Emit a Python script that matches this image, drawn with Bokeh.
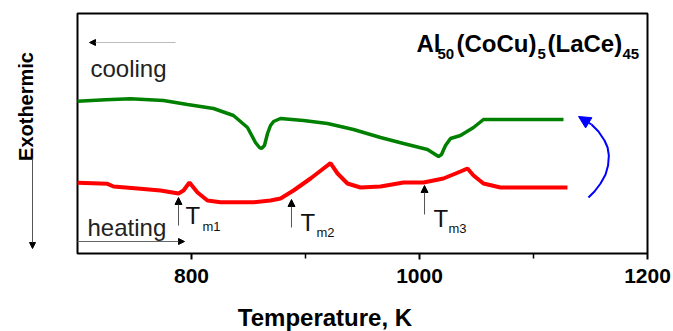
import numpy as np
from bokeh.plotting import figure
from bokeh.models import Label, Arrow, NormalHead, FixedTicker
from bokeh.embed import file_html
from bokeh.resources import INLINE

# ---- data (temperature in K, DTA signal in arbitrary units) ----
cool_T = [700, 724.6, 746.5, 775.4, 796.5, 819.3, 836.8, 849.1, 856.1, 859.6, 861.4, 864.0,
          866.7, 869.3, 872.0, 878.0, 898.2, 919.3, 942.1, 965.8, 986.0, 1007.0, 1016.7,
          1019.3, 1022.8, 1027.2, 1035.9, 1047.4, 1056.1, 1126.3]
cool_S = [152.3, 153.7, 154.7, 153.0, 149.0, 145.0, 138.0, 126.0, 111.0, 106.0, 105.0, 108.0,
          120.0, 128.0, 132.0, 135.0, 133.0, 130.0, 124.0, 116.0, 110.0, 104.0, 97.0,
          99.0, 108.0, 115.0, 118.0, 126.0, 134.0, 134.0]

heat_T = [700, 726.3, 731.6, 752.6, 772.8, 788.6, 793.0, 798.2, 805.3, 814.0, 825.4, 854.4,
          869.3, 878.1, 889.5, 904.4, 915.8, 921.9, 928.1, 936.8, 948.2, 965.8, 986.0,
          1003.5, 1021.0, 1036.0, 1042.1, 1047.4, 1056.1, 1071.0, 1129.8]
heat_S = [70.7, 69.7, 67.0, 65.0, 63.0, 60.0, 63.0, 71.0, 61.0, 53.0, 51.3, 51.3,
          53.0, 55.0, 63.0, 75.0, 85.0, 90.3, 80.0, 70.0, 66.0, 67.0, 71.0,
          71.0, 75.0, 82.0, 85.0, 78.0, 70.0, 66.0, 66.0]

# melting onsets: temperature, arrow bottom, arrow top
tm_names = ["m1", "m2", "m3"]
tm_T = [788.6, 887.7, 1004.4]
tm_lo = [28, 26, 39]
tm_hi = [56, 54, 68]

# blue cycle arrow (annotation path)
cyc_T = [1148.2, 1153.5, 1158.8, 1163.2, 1165.4, 1166.1, 1165.0, 1162.3, 1157.0, 1150.9, 1139.5]
cyc_S = [56, 62, 70, 79, 88, 98, 106, 113, 122, 129, 137]

x_ticks = [800, 1000, 1200]
x_minor = [900, 1100]
T_MIN, T_MAX = 700, 1200
S_MIN, S_MAX = 0, 240

FONT = "Liberation Sans"
PXK = 228 / 200.0            # pixels per kelvin
X_LO = T_MIN - 77 / PXK      # extend frame to the canvas edge so outer annotations are not clipped
FW = 649
X_HI = X_LO + FW / PXK

def px(xi, yi):
    """image pixel -> data coordinates (used for annotation placement)"""
    return T_MIN + (xi - 77) / PXK, 253 - yi

p = figure(frame_width=FW, frame_height=244, x_range=(X_LO, X_HI), y_range=(-2, 242),
           output_backend="svg", toolbar_location=None,
           min_border_left=0, min_border_right=673 - FW, min_border_top=11, min_border_bottom=76)
p.grid.visible = False
p.yaxis.visible = False
p.outline_line_color = None
p.background_fill_color = "white"
p.border_fill_color = "white"

ax = p.xaxis[0]
ax.ticker = FixedTicker(ticks=x_ticks, minor_ticks=x_minor)
ax.axis_line_color = None
ax.major_tick_in = 2
ax.major_tick_out = 4
ax.major_tick_line_width = 2
ax.minor_tick_in = 2
ax.minor_tick_out = 3
ax.minor_tick_line_width = 1.5
ax.major_label_text_font = FONT
ax.major_label_text_font_size = "21px"
ax.major_label_text_font_style = "bold"
ax.major_label_text_color = "black"
ax.major_label_standoff = 9
ax.axis_label = "Temperature, K"
ax.axis_label_text_font = FONT
ax.axis_label_text_font_size = "24px"
ax.axis_label_text_font_style = "bold"
ax.axis_label_text_color = "black"
ax.axis_label_standoff = 18

# plot box
p.quad(left=[T_MIN], right=[T_MAX], bottom=[S_MIN], top=[S_MAX], fill_alpha=0,
       line_color="black", line_width=2)

p.line(cool_T, cool_S, line_color="#008000", line_width=3.5)
p.line(heat_T, heat_S, line_color="#ff0000", line_width=4)
p.line(cyc_T[:-1], cyc_S[:-1], line_color="#0000ff", line_width=2)
p.add_layout(Arrow(end=NormalHead(size=12, fill_color="#0000ff", line_color="#0000ff"),
                   x_start=cyc_T[-2], y_start=cyc_S[-2], x_end=cyc_T[-1], y_end=cyc_S[-1],
                   line_color="#0000ff", line_width=2))

def arrow(x0, y0, x1, y1, color="#555555", size=7):
    p.add_layout(Arrow(end=NormalHead(size=size, fill_color="black", line_color="black"),
                       x_start=x0, y_start=y0, x_end=x1, y_end=y1,
                       line_color=color, line_width=1))

def label(x, y, text, size, style="normal", align="left", angle=0, color="#111111", base="alphabetic"):
    p.add_layout(Label(x=x, y=y, text=text, text_font=FONT, text_font_size=size,
                       text_font_style=style, text_align=align, text_baseline=base,
                       text_color=color, angle=angle))

# Tm arrows and labels
sub_dx = [(185, 202), (300, 316), (433, 448)]
sub_by = [(215, 226), (222, 232), (218, 228)]
for i in range(3):
    arrow(tm_T[i], tm_lo[i], tm_T[i], tm_hi[i])
    xT, yT = px(sub_dx[i][0], sub_by[i][0])
    xs, ys = px(sub_dx[i][1], sub_by[i][1])
    label(xT, yT, "T", "24px")
    label(xs, ys, tm_names[i], "13px")

# cooling / heating
x0, y0 = px(175, 42); x1, y1 = px(89, 42)
arrow(x0, y0, x1, y1, color="#bbbbbb", size=6)
lx, ly = px(90, 68)
label(lx, ly, "cooling", "24px", color="#222222")
x0, y0 = px(77, 241); x1, y1 = px(184, 241)
arrow(x0, y0, x1, y1, color="#666666", size=6)
lx, ly = px(87, 227)
label(lx, ly, "heating", "24px", color="#222222")

# Exothermic
lx, ly = px(25, 106)
label(lx, ly, "Exothermic", "20px", style="bold", align="center", angle=np.pi / 2,
      color="black", base="middle")
x0, y0 = px(32, 158); x1, y1 = px(32, 248)
arrow(x0, y0, x1, y1, color="#555555", size=6)

# composition title
parts = [("Al", 416, 43, "24px"), ("50", 437, 53, "15px"), ("(CoCu)", 456, 43, "24px"),
         ("5", 537, 53, "15px"), ("(LaCe)", 547, 43, "24px"), ("45", 622, 53, "15px")]
for t, xi, yi, fs in parts:
    lx, ly = px(xi, yi)
    label(lx, ly, t, fs, style="bold", color="black")

open("out.html", "w").write(file_html(p, INLINE))
